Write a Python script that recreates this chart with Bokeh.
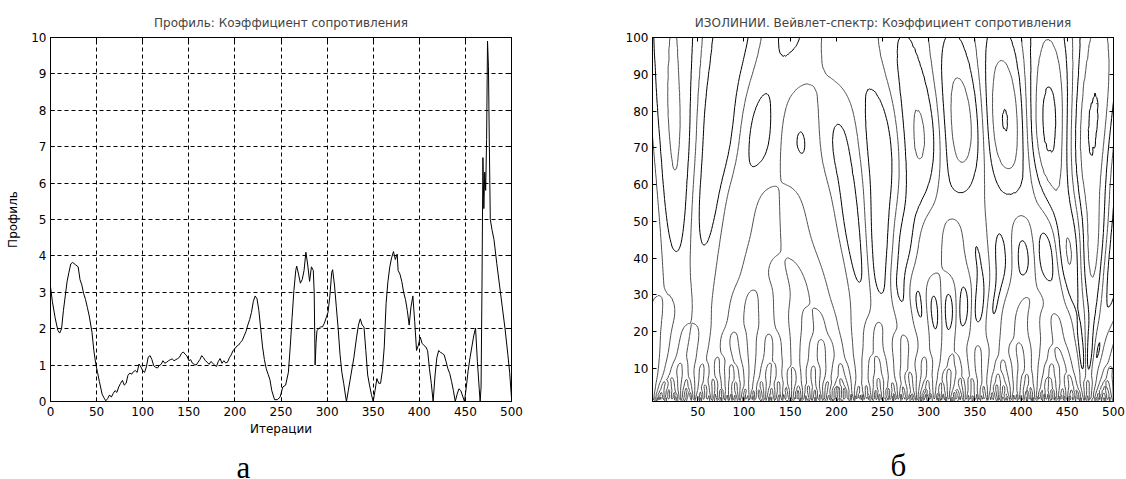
import numpy as np
from bokeh.plotting import figure
from bokeh.layouts import row
from bokeh.models import Range1d, LinearAxis, FixedTicker, Title
from bokeh.embed import file_html
from bokeh.resources import INLINE

# ---------------- data ----------------
iterations = [0, 2, 5, 8, 10, 12, 14, 16, 18, 20, 22, 24, 27, 30, 32, 34, 36, 38, 40, 42,
              45, 47, 49, 51, 53, 56, 58, 60, 62, 64, 66, 68, 70, 72, 74, 76, 78, 80, 82, 84,
              86, 88, 90, 92, 94, 96, 98, 100, 102, 104, 106, 108, 110, 112, 114, 116, 118, 120,
              122, 124, 126, 128, 130, 132, 134, 136, 138, 140, 142, 144, 146, 148, 150, 152,
              154, 156, 158, 160, 162, 164, 166, 168, 170, 172, 174, 176, 178, 180, 182, 184,
              186, 188, 190, 192, 194, 196, 198, 200, 202, 204, 206, 208, 210, 212, 214, 216,
              218, 220, 222, 224, 226, 228, 230, 232, 234, 236, 238, 240, 243, 246, 249, 252,
              255, 258, 260, 262, 264, 266, 267, 269, 271, 273, 275, 277, 279, 281, 283, 285,
              286, 287, 288, 289, 291, 293, 295, 297, 299, 301, 303, 305, 306, 308, 310, 312,
              314, 316, 318, 320, 321, 323, 326, 329, 332, 334, 336, 338, 340, 342, 344, 346,
              348, 350, 352, 354, 356, 358, 360, 362, 364, 366, 368, 370, 372, 374, 376, 377,
              379, 381, 383, 385, 387, 389, 391, 393, 395, 397, 399, 401, 403, 405, 407, 409,
              411, 413, 415, 417, 419, 421, 423, 425, 427, 429, 431, 433, 435, 437, 439, 441,
              443, 445, 447, 449, 451, 453, 455, 457, 459, 461, 463, 465, 466, 467, 468, 469,
              470, 471, 472, 473, 474, 475, 476, 477, 479, 481, 484, 487, 490, 493, 496, 498, 500]
profile = [3.15, 2.75, 2.3, 1.95, 1.88, 2.0, 2.5, 2.9, 3.3, 3.55, 3.78, 3.82, 3.76, 3.7, 3.35, 3.2, 2.96, 2.8, 2.58, 2.35,
           1.9, 1.4, 1.05, 0.8, 0.55, 0.2, 0.1, 0.02, 0.08, 0.18, 0.12, 0.22, 0.3, 0.25, 0.4, 0.5, 0.58, 0.45, 0.5, 0.72,
           0.78, 0.75, 0.82, 0.85, 0.8, 1.03, 0.95, 0.85, 0.8, 0.95, 1.22, 1.26, 1.15, 0.98, 0.94, 0.92, 0.99, 1.02,
           1.12, 1.05, 1.08, 1.12, 1.15, 1.17, 1.12, 1.15, 1.18, 1.22, 1.32, 1.36, 1.3, 1.25, 1.12, 1.15,
           1.05, 1.02, 1.0, 1.08, 1.15, 1.26, 1.2, 1.12, 1.08, 1.02, 1.1, 1.05, 1.0, 0.96, 1.1, 1.18,
           1.05, 1.12, 1.06, 1.08, 1.2, 1.28, 1.4, 1.45, 1.52, 1.55, 1.62, 1.68, 1.8, 1.92, 2.1, 2.25,
           2.45, 2.75, 2.9, 2.82, 2.5, 2.0, 1.5, 1.15, 0.9, 0.75, 0.6, 0.3, 0.05, 0.05, 0.12, 0.4,
           0.45, 0.8, 1.5, 2.3, 3.05, 3.6, 3.72, 3.5, 3.25, 3.35, 3.6, 4.1, 3.75, 3.3, 3.7, 3.6,
           3.0, 1.0, 1.6, 1.95, 2.0, 2.05, 2.05, 2.15, 2.3, 2.45, 2.9, 3.55, 3.62, 3.2, 2.6, 2.0,
           1.3, 0.8, 0.5, 0.15, 0.0, 0.3, 0.75, 1.2, 1.77, 2.1, 2.27, 2.1, 2.05, 1.4, 0.73, 0.45,
           0.2, 0.0, 0.3, 0.63, 0.5, 0.5, 0.85, 1.5, 2.7, 3.3, 3.7, 3.95, 4.12, 3.9, 4.05, 3.6,
           3.5, 3.3, 3.0, 2.8, 2.5, 2.1, 2.6, 2.9, 2.2, 1.4, 1.55, 1.77, 1.6, 1.54, 1.5, 1.4,
           0.9, 0.5, 0.0, 0.7, 1.2, 1.4, 1.35, 1.32, 1.28, 1.1, 0.9, 0.77, 0.55, 0.3, 0.0, 0.2,
           0.35, 0.3, 0.15, 0.0, 0.4, 0.85, 1.2, 1.5, 1.8, 2.02, 1.1, 0.35, 0.0, 0.4, 3.2, 6.7,
           5.3, 6.3, 5.8, 7.2, 9.9, 9.2, 7.0, 5.0, 4.7, 4.45, 3.8, 3.2, 2.6, 2.0, 1.3, 0.8, 0.1]

x_ticks_left = list(range(0, 501, 50))
y_ticks_left = list(range(0, 11))
x_ticks_right = list(range(50, 501, 50))
y_ticks_right = list(range(10, 101, 10))
scales = list(range(1, 101))
positions = list(range(1, 501))

title_left = "Профиль: Коэффициент сопротивления"
title_right = "ИЗОЛИНИИ. Вейвлет-спектр: Коэффициент сопротивления"
xlabel_left = "Итерации"
ylabel_left = "Профиль"
panel_labels = ["а", "б"]

FONT = "DejaVu Sans"
FS = "12px"

# ------- wavelet spectrum: continuous Morlet transform of the profile (integrated-wavelet scheme) -------
sig = np.interp(positions, iterations, profile)
n_sig = len(sig)
xval = np.linspace(-4.0, 4.0, 2 ** 10)
psi_vals = np.exp(-xval ** 2 / 2.0) * np.cos(5.0 * xval)
psi_integ = np.cumsum(psi_vals) * (xval[1] - xval[0])
xv = xval - xval[0]
dx = xv[1]
xmax = xv[-1]
coefs = np.zeros((len(scales), n_sig))
for i, a in enumerate(scales):
    j = np.floor(np.arange(0, int(np.floor(a * xmax)) + 1) / (a * dx)).astype(int)
    if len(j) == 1:
        j = np.array([0, 0])
    f = psi_integ[j][::-1]
    d = np.diff(np.convolve(sig, f))
    extra = (len(d) - n_sig) / 2.0
    first = int(np.floor(extra))
    coefs[i] = -np.sqrt(a) * d[first:first + n_sig]

zmin, zmax = coefs.min(), coefs.max()
raw = (zmax - zmin) / 10.0
mag = 10 ** np.floor(np.log10(raw))
step = min([m * mag for m in (1, 2, 5, 10) if m * mag >= raw])
levels = list(np.arange(np.ceil(zmin / step) * step, zmax, step))
level_colors = ["#000000" if i % 2 == 0 else "#505050" for i in range(len(levels))]


def style_axes(p):
    for ax in p.xaxis + p.yaxis:
        ax.major_tick_in = 4
        ax.major_tick_out = 0
        ax.minor_tick_line_color = None
        ax.axis_line_color = "black"
        ax.major_tick_line_color = "black"
        ax.major_label_text_font = FONT
        ax.major_label_text_font_size = FS
        ax.major_label_text_color = "black"
        ax.major_label_standoff = 5
        ax.axis_label_text_font = FONT
        ax.axis_label_text_font_size = FS
        ax.axis_label_text_font_style = "normal"
        ax.axis_label_text_color = "black"
    p.outline_line_color = "black"
    p.outline_line_alpha = 1.0
    p.title.text_font = FONT
    p.title.text_font_size = "12px"
    p.title.text_font_style = "normal"
    p.title.align = "center"
    p.title.standoff = 15


def add_mirror_axes(p, xt, yt):
    top = LinearAxis(ticker=FixedTicker(ticks=xt), major_label_text_font_size="0px",
                     major_label_standoff=0, major_tick_in=4, major_tick_out=0,
                     minor_tick_line_color=None, axis_line_color="black")
    right = LinearAxis(ticker=FixedTicker(ticks=yt), major_label_text_font_size="0px",
                       major_label_standoff=0, major_tick_in=4, major_tick_out=0,
                       minor_tick_line_color=None, axis_line_color="black")
    p.add_layout(top, "above")
    p.add_layout(right, "right")


def panel_title(text, offset, standoff):
    return Title(text=text, align="left", offset=offset, standoff=standoff,
                 text_font="Liberation Serif", text_font_size="31px",
                 text_font_style="normal", text_color="black")


# ---------------- left: profile ----------------
p1 = figure(frame_width=461, frame_height=364, min_border_left=50, min_border_right=69,
            min_border_top=37, min_border_bottom=78,
            x_range=Range1d(0, 500), y_range=Range1d(0, 10),
            output_backend="svg", toolbar_location=None, title=title_left,
            x_axis_label=xlabel_left, y_axis_label=ylabel_left)
p1.xaxis.ticker = FixedTicker(ticks=x_ticks_left)
p1.yaxis.ticker = FixedTicker(ticks=y_ticks_left)
p1.xgrid.ticker = FixedTicker(ticks=x_ticks_left)
p1.ygrid.ticker = FixedTicker(ticks=y_ticks_left)
for g in (p1.xgrid, p1.ygrid):
    g.grid_line_color = "black"
    g.grid_line_dash = "4 3"
    g.grid_line_width = 1
    g.grid_line_alpha = 1.0
p1.line(iterations, profile, line_color="black", line_width=1)
style_axes(p1)
p1.yaxis.major_label_standoff = 4
p1.xaxis.axis_label_standoff = 3
p1.yaxis.axis_label_standoff = 8
add_mirror_axes(p1, x_ticks_left, y_ticks_left)
p1.add_layout(panel_title(panel_labels[0], 186, 18), "below")

# ---------------- right: contour of wavelet spectrum ----------------
p2 = figure(frame_width=461, frame_height=364, min_border_left=72, min_border_right=13,
            min_border_top=37, min_border_bottom=78,
            x_range=Range1d(1, 500), y_range=Range1d(1, 100),
            output_backend="svg", toolbar_location=None, title=title_right)
p2.xaxis.ticker = FixedTicker(ticks=x_ticks_right)
p2.yaxis.ticker = FixedTicker(ticks=y_ticks_right)
p2.xgrid.grid_line_color = None
p2.ygrid.grid_line_color = None
p2.contour(positions, scales, coefs, levels, line_color=level_colors, line_width=1)
style_axes(p2)
p2.yaxis.major_label_standoff = 4
add_mirror_axes(p2, x_ticks_right, y_ticks_right)
p2.add_layout(panel_title(panel_labels[1], 238, 54), "below")

layout = row(p1, p2)
html = file_html(layout, INLINE)
html = html.replace("<head>", "<head><style>html,body{overflow:hidden;margin:0;padding:0}</style>", 1)
open("out.html", "w").write(html)
